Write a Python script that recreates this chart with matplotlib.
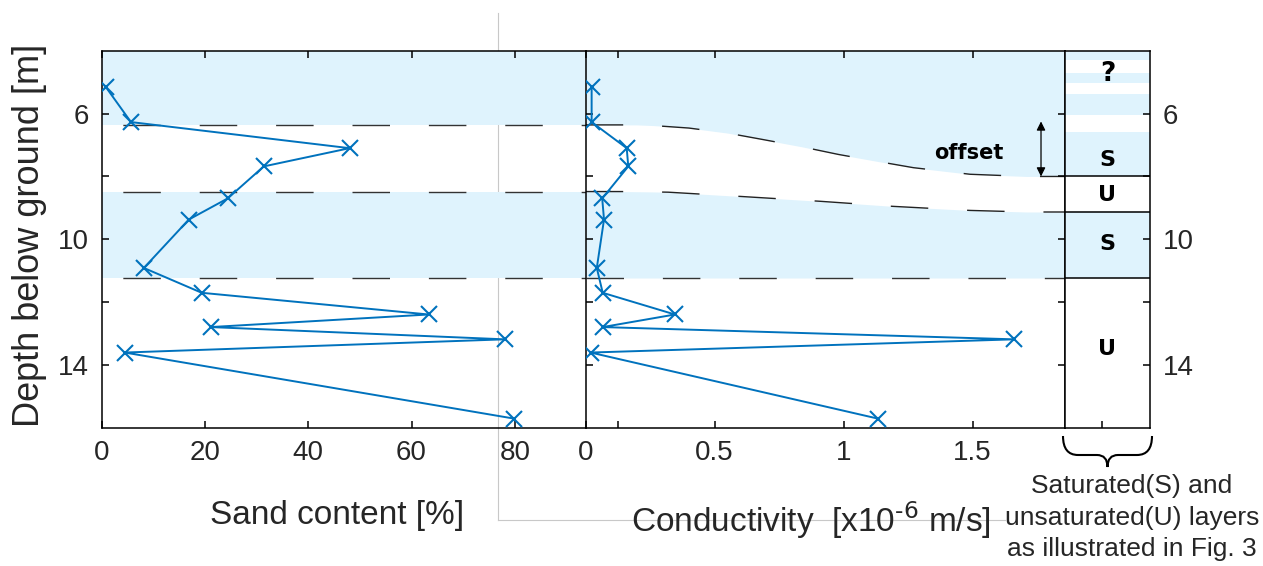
import matplotlib.pyplot as plt
from matplotlib.path import Path
from matplotlib.patches import PathPatch
from matplotlib.lines import Line2D

plt.rcParams['font.family'] = ['Liberation Sans', 'DejaVu Sans']
plt.rcParams['mathtext.default'] = 'regular'
plt.rcParams['lines.scale_dashes'] = False

# Dados
profundidade = [5.17, 6.27, 7.10, 7.68, 8.70, 9.37, 10.91, 11.70, 12.39, 12.79, 13.18, 13.60, 15.70]
areia = [0.9, 5.7, 48.0, 31.4, 24.4, 16.9, 8.2, 19.4, 63.3, 21.1, 78.0, 4.5, 79.8]
condutividade = [0.023, 0.023, 0.159, 0.165, 0.064, 0.071, 0.043, 0.066, 0.346, 0.066, 1.661, 0.019, 1.132]

# Limites das camadas (painel da areia)
limites = [6.36, 8.48, 11.23]
faixas_saturadas = [(4.0, 6.36), (8.48, 11.23)]

# Limites curvos no painel da condutividade
curva_sup_x = [0, 0.2, 0.26, 0.40, 0.55, 0.69, 0.84, 0.98, 1.13, 1.27, 1.49, 1.71, 1.86]
curva_sup_d = [6.36, 6.36, 6.38, 6.46, 6.62, 6.83, 7.06, 7.30, 7.52, 7.72, 7.93, 8.0, 8.0]
curva_inf_x = [0, 0.15, 0.25, 0.32, 0.61, 0.91, 1.19, 1.49, 1.71, 1.86]
curva_inf_d = [8.48, 8.48, 8.49, 8.50, 8.64, 8.79, 8.95, 9.08, 9.13, 9.13]

# Coluna das camadas
listras = [(4.0, 4.30), (4.70, 5.03), (5.38, 6.04), (6.57, 8.0), (9.13, 11.23)]
linhas_camadas = [8.0, 9.13, 11.23]
rotulos = ['?', 'S', 'U', 'S', 'U']
rotulos_d = [4.74, 7.47, 8.58, 10.15, 13.5]
rotulos_tam = [19, 16, 16, 16, 16]

yticks = [6, 8, 10, 12, 14]
ylabels = ['6', '', '10', '', '14']

azul = '#dff3fd'
linha_azul = '#0072BD'
cinza = '#262626'
tracejado = (40, (27, 28))

W, H = 1263, 566
fig = plt.figure(figsize=(W / 100, H / 100), dpi=100)

bot = 1 - 428 / H
alt = (428 - 50.7) / H
ax1 = fig.add_axes([101.5 / W, bot, (585.7 - 101.5) / W, alt])
ax2 = fig.add_axes([585.7 / W, bot, (1065 - 585.7) / W, alt])
ax3 = fig.add_axes([1065 / W, bot, 85 / W, alt])
ax1.patch.set_facecolor('none')

for ax in (ax1, ax2, ax3):
    ax.set_ylim(16, 4)
    ax.set_yticks(yticks)
    for s in ax.spines.values():
        s.set_linewidth(1.1)
    ax.tick_params(direction='in', length=5, width=1.1, labelsize=20,
                   labelcolor=cinza, pad=9)

# Painel 1: areia
for a, b in faixas_saturadas:
    ax1.axhspan(a, b, color=azul, lw=0, zorder=0)
for d in limites:
    ax1.axhline(d, color='#333333', lw=1.0, ls=tracejado, zorder=1)
ax1.plot(areia, profundidade, '-x', color=linha_azul, lw=1.4, ms=11, mew=1.5, zorder=3)
ax1.set_xlim(0, 93.7)
ax1.set_xticks([0, 20, 40, 60, 80])
ax1.set_yticklabels(ylabels)
ax1.spines['right'].set_visible(False)
ax1.tick_params(top=True, right=False)
ax1.set_xlabel('Sand content [%]', fontsize=24, color=cinza)
ax1.xaxis.set_label_coords(0.487, -0.19)
ax1.set_ylabel('Depth below ground [m]', fontsize=26, color=cinza)
ax1.yaxis.set_label_coords(-0.112, 0.51)

# Painel 2: condutividade
ax2.fill_between(curva_sup_x, 4, curva_sup_d, color=azul, lw=0, zorder=0)
ax2.fill_between(curva_inf_x, curva_inf_d, limites[2], color=azul, lw=0, zorder=0)
ax2.plot(curva_sup_x, curva_sup_d, color='#222222', lw=1.0, ls=(0, (27, 28)), zorder=1)
ax2.plot(curva_inf_x, curva_inf_d, color='#222222', lw=1.0, ls=(0, (27, 28)), zorder=1)
ax2.axhline(limites[2], color='#333333', lw=1.0, ls=(0, (27, 28)), zorder=1)
ax2.plot(condutividade, profundidade, '-x', color=linha_azul, lw=1.4, ms=11, mew=1.5, zorder=3)
ax2.set_xlim(0, 1.858)
ax2.set_xticks([0, 0.5, 1, 1.5])
ax2.set_xticklabels(['0', '0.5', '1', '1.5'])
ax2.set_xticks([0.127], minor=True)
ax2.tick_params(which='both', direction='in', top=True, left=True, right=True,
                labelleft=False, length=5, width=1.1)
ax2.set_xlabel(r'Conductivity  [x10$^{\text{-6}}$ m/s]', fontsize=24, color=cinza)
ax2.xaxis.set_label_coords(0.47, -0.19)
ax2.text(1.484, 7.24, 'offset', fontsize=15, fontweight='bold',
         family='DejaVu Sans', ha='center', va='center')
ax2.annotate('', xy=(1.765, 6.25), xytext=(1.765, 8.0),
             arrowprops=dict(arrowstyle='<|-|>', color='k', lw=0.9,
                             mutation_scale=13, shrinkA=0, shrinkB=0))

# Painel 3: camadas S / U
for a, b in listras:
    ax3.axhspan(a, b, color=azul, lw=0, zorder=0)
for d in linhas_camadas:
    ax3.axhline(d, color='k', lw=1.1)
for r, d, t in zip(rotulos, rotulos_d, rotulos_tam):
    ax3.text(0.5, d, r, fontsize=t, fontweight='bold', family='DejaVu Sans',
             ha='center', va='center')
ax3.set_xlim(0, 1)
ax3.set_xticks([0.435])
ax3.set_xticklabels([''])
ax3.yaxis.tick_right()
ax3.set_yticklabels(ylabels)
ax3.tick_params(top=False, left=False, right=True, labelright=True)

# Chave e legenda
def px(x, y):
    return (x / W, 1 - y / H)

vert = [px(1063, 436), px(1063, 455), px(1078, 455), px(1097, 455),
        px(1107.5, 455), px(1107.5, 467), px(1107.5, 455), px(1118, 455),
        px(1137, 455), px(1152, 455), px(1152, 436)]
cod = [Path.MOVETO, Path.CURVE3, Path.CURVE3, Path.LINETO,
       Path.CURVE3, Path.CURVE3, Path.CURVE3, Path.CURVE3,
       Path.LINETO, Path.CURVE3, Path.CURVE3]
fig.add_artist(PathPatch(Path(vert, cod), transform=fig.transFigure,
                         fc='none', ec='k', lw=1.5))
fig.text(1132 / W, 1 - 474 / H,
         'Saturated(S) and\nunsaturated(U) layers\nas illustrated in Fig. 3',
         ha='center', va='top', fontsize=19, color=cinza, linespacing=1.4)

# linhas cinza de fundo
fig.add_artist(Line2D([498.3 / W, 498.3 / W], [1 - 13 / H, 1 - 520 / H],
                      transform=fig.transFigure, color='#c8c8c8', lw=0.8, zorder=-1))
fig.add_artist(Line2D([498.3 / W, 1005 / W], [1 - 520 / H, 1 - 520 / H],
                      transform=fig.transFigure, color='#c8c8c8', lw=0.8, zorder=-1))

plt.savefig('out.png', dpi=100)
